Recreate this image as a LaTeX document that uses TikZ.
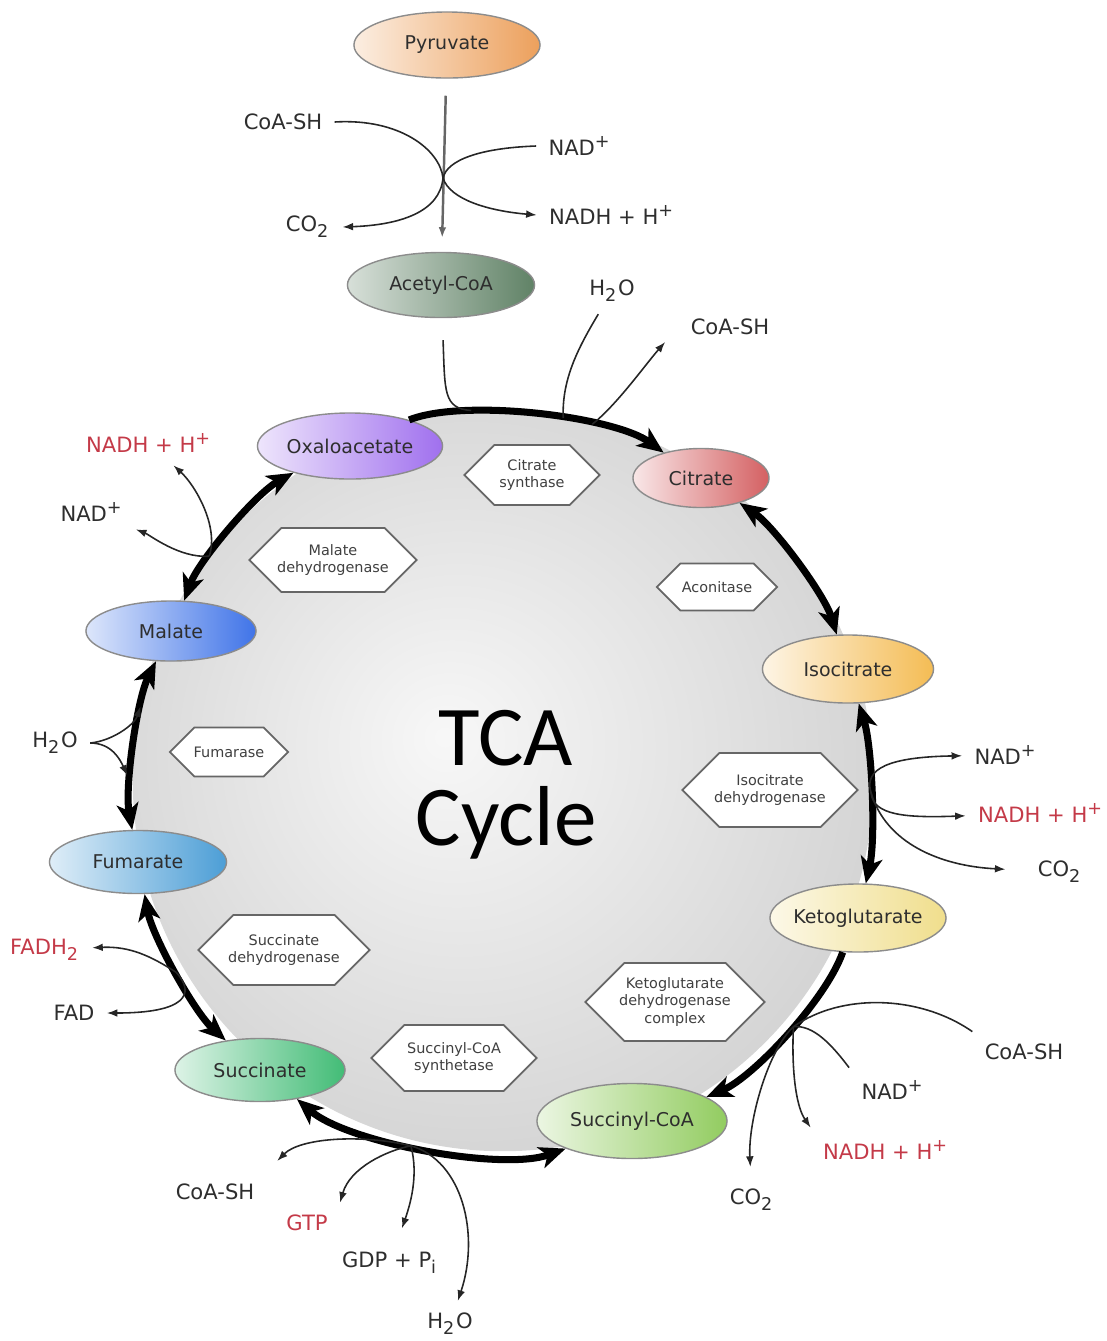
\documentclass[tikz,border=0pt]{standalone}
\usepackage{fontspec}
\setmainfont{DejaVu Sans}
\newfontfamily\tcafont{Carlito}
\usepackage{tikz}
\usetikzlibrary{shapes,arrows.meta}
\usetikzlibrary{positioning}
\definecolor{nadred}{RGB}{196,58,72}
\definecolor{pyrC}{RGB}{236,160,92}
\definecolor{acoaC}{RGB}{96,130,102}
\definecolor{oxaC}{RGB}{160,112,238}
\definecolor{citC}{RGB}{212,96,98}
\definecolor{isoC}{RGB}{244,188,84}
\definecolor{kgC}{RGB}{240,222,140}
\definecolor{scaC}{RGB}{146,204,96}
\definecolor{sucC}{RGB}{66,188,118}
\definecolor{fumC}{RGB}{76,158,214}
\definecolor{malC}{RGB}{64,116,232}
\pgfdeclareradialshading{tcashade}{\pgfpoint{-4bp}{3bp}}{color(0bp)=(white!97!black); color(50bp)=(white!72!black)}
\newcommand{\mCO}{CO\textsubscript{2}}
\newcommand{\mWater}{H\textsubscript{2}O}
\newcommand{\mNad}{NAD\textsuperscript{+}}
\newcommand{\mNadh}{NADH + H\textsuperscript{+}}
\newcommand{\mCoa}{CoA-SH}
\newcommand{\mFadh}{FADH\textsubscript{2}}
\tikzset{
  metab/.style={ellipse, draw=black!45, thin, inner xsep=-1pt,
    font=\fontsize{5.4}{6.5}\selectfont, text=black!82},
  enzyme/.style={signal, signal to=east and west, signal pointer angle=90,
    draw=black!60, fill=white, line width=0.5pt, align=center, inner xsep=-1.5pt,
    font=\fontsize{4.1}{5}\selectfont, text=black!75},
  lbl/.style={font=\fontsize{6}{7}\selectfont, text=black!82},
  prod/.style={lbl, text=nadred},
  cyc/.style={line width=2pt, looseness=0.65, >={Stealth[length=7.5pt,width=6.2pt,inset=2pt]}},
  aux/.style={line width=0.45pt, black!85, >={Latex[length=3pt,width=2.2pt]}},
}

\begin{document}
\begin{tikzpicture}[x=0.01cm, y=-0.01cm]
    \useasboundingbox (0,0) rectangle (1107,1341);
    \shade[shading=tcashade] (503,781) circle[radius=3.70cm];
    \node[font=\tcafont\fontsize{24.2}{22.8}\selectfont, align=center, inner sep=0pt] (tca) at (506,785) {TCA\\Cycle};
    % metabolites
    \node[metab, minimum width=1.86cm, minimum height=0.66cm, left color=pyrC!18, right color=pyrC] (pyr) at (447,45) {Pyruvate};
    \node[metab, minimum width=1.87cm, minimum height=0.65cm, left color=acoaC!25, right color=acoaC] (acoa) at (441,285) {Acetyl-CoA};
    \node[metab, minimum width=1.85cm, minimum height=0.66cm, left color=oxaC!18, right color=oxaC] (oxa) at (350,446) {Oxaloacetate};
    \node[metab, minimum width=1.36cm, minimum height=0.59cm, left color=citC!15, right color=citC] (cit) at (701,478) {Citrate};
    \node[metab, minimum width=1.71cm, minimum height=0.68cm, left color=isoC!15, right color=isoC] (iso) at (848,669) {Isocitrate};
    \node[metab, minimum width=1.76cm, minimum height=0.68cm, left color=kgC!20, right color=kgC] (kg) at (858,918) {Ketoglutarate};
    \node[metab, minimum width=1.90cm, minimum height=0.75cm, left color=scaC!18, right color=scaC] (sca) at (632,1121) {Succinyl-CoA};
    \node[metab, minimum width=1.70cm, minimum height=0.63cm, left color=sucC!18, right color=sucC] (suc) at (260,1070) {Succinate};
    \node[metab, minimum width=1.77cm, minimum height=0.63cm, left color=fumC!18, right color=fumC] (fum) at (138,862) {Fumarate};
    \node[metab, minimum width=1.70cm, minimum height=0.60cm, left color=malC!18, right color=malC] (mal) at (171,631) {Malate};
    % enzymes
    \node[enzyme, minimum width=1.35cm, minimum height=0.60cm] (cs) at (532,475) {Citrate\\synthase};
    \node[enzyme, minimum width=1.20cm, minimum height=0.47cm] (aco) at (717,587) {Aconitase};
    \node[enzyme, minimum width=1.70cm, minimum height=0.74cm] (idh) at (770,790) {Isocitrate\\dehydrogenase};
    \node[enzyme, minimum width=1.64cm, minimum height=0.78cm] (kgdh) at (675,1002) {Ketoglutarate\\dehydrogenase\\complex};
    \node[enzyme, minimum width=1.65cm, minimum height=0.66cm] (scs) at (454,1058) {Succinyl-CoA\\synthetase};
    \node[enzyme, minimum width=1.55cm, minimum height=0.70cm] (sdh) at (284,950) {Succinate\\dehydrogenase};
    \node[enzyme, minimum width=1.18cm, minimum height=0.49cm] (fh) at (229,752) {Fumarase};
    \node[enzyme, minimum width=1.67cm, minimum height=0.64cm] (mdh) at (333,560) {Malate\\dehydrogenase};
    % the cycle, with the points where side reactions meet it
    \draw[cyc,->] (oxa) to[bend left=29, looseness=0.6] coordinate[pos=0.27] (j1) coordinate[pos=0.58] (j2) coordinate[pos=0.68] (j3) (cit);
    \draw[cyc,<->] (cit) to[bend left=19.5] (iso);
    \draw[cyc,<->] (iso) to[bend left=15] coordinate[pos=0.5] (j9) (kg);
    \draw[cyc,->] (kg) to[bend left=24] coordinate[pos=0.45] (j8) (sca);
    \draw[cyc,<->] (sca) to[bend left=30.4, looseness=0.63] coordinate[pos=0.55] (j7) (suc);
    \draw[cyc,<->] (suc) to[bend left=18.8] coordinate[pos=0.5] (j6) (fum);
    \draw[cyc,<->] (fum) to[bend left=18.3] coordinate[pos=0.3] (j5d) coordinate[pos=0.74] (j5u) (mal);
    \draw[cyc,<->] (mal) to[bend left=20.6] coordinate[pos=0.32] (j4) (oxa);
    % side labels
    \node[lbl] (coa1) at (283,122) {\mCoa};
    \node[lbl] (nad1) at (580,146) {\mNad};
    \node[lbl] (co1) at (308,227) {\mCO};
    \node[lbl] (nadh1) at (612,215) {\mNadh};
    \node[lbl] (h2o1) at (612,291) {\mWater};
    \node[lbl] (coa2) at (730,327) {\mCoa};
    \node[prod] (nadh2) at (149,443) {\mNadh};
    \node[lbl] (nad2) at (92,512) {\mNad};
    \node[lbl] (h2o2) at (55,743) {\mWater};
    \node[prod] (fadh) at (45,950) {\mFadh};
    \node[lbl] (fad) at (74,1013) {FAD};
    \node[lbl] (coa3) at (215,1192) {\mCoa};
    \node[prod] (gtp) at (307,1223) {GTP};
    \node[lbl] (gdp) at (390,1263) {GDP + P\textsubscript{i}};
    \node[lbl] (h2o3) at (450,1324) {\mWater};
    \node[lbl] (coa4) at (1024,1052) {\mCoa};
    \node[lbl] (nad4) at (893,1090) {\mNad};
    \node[prod] (nadh4) at (886,1150) {\mNadh};
    \node[lbl] (co4) at (752,1200) {\mCO};
    \node[lbl] (nad3) at (1006,755) {\mNad};
    \node[prod] (nadh3) at (1041,813) {\mNadh};
    \node[lbl] (co3) at (1060,872) {\mCO};
    \coordinate (m1) at (443,178);
    % pyruvate dehydrogenase
    \draw[aux, line width=0.7pt, black!60, ->, shorten <=0.17cm, shorten >=0.14cm] (pyr) -- (acoa);
    \draw[aux] (coa1.east) .. controls (400,118) and (440,150) .. (m1);
    \draw[aux] (nad1.west) .. controls (480,148) and (447,160) .. (m1);
    \draw[aux,->] (m1) .. controls (440,212) and (400,225) .. (co1.east);
    \draw[aux,->] (m1) .. controls (450,200) and (490,211) .. (nadh1.west);
    % citrate synthase
    \draw[aux, shorten <=0.22cm] (acoa) .. controls (445,392) and ([shift={(-28,-2)}]j1) .. (j1);
    \draw[aux] (h2o1) .. controls (580,345) and ([shift={(-2,-40)}]j2) .. (j2);
    \draw[aux,->, shorten >=0.2cm] (j3) .. controls ([shift={(25,-20)}]j3) and (645,365) .. (coa2.west);
    % malate dehydrogenase
    \draw[aux,->] (j4) .. controls ([shift={(10,-30)}]j4) and (195,485) .. (nadh2);
    \draw[aux,->] (j4) .. controls ([shift={(-30,2)}]j4) and (150,535) .. (nad2);
    % fumarase
    \draw[aux,->, shorten >=0.07cm] (h2o2.east) .. controls (112,741) and ([shift={(-8,25)}]j5u) .. (j5u);
    \draw[aux,->, shorten >=0.07cm] (h2o2.east) .. controls (112,743) and ([shift={(-10,-22)}]j5d) .. (j5d);
    % succinate dehydrogenase
    \draw[aux,->] (j6) .. controls ([shift={(-25,-16)}]j6) and (130,946) .. (fadh);
    \draw[aux,->] (j6) .. controls ([shift={(20,22)}]j6) and (185,1013) .. (fad);
    % succinyl-CoA synthetase
    \draw[aux,->, shorten >=0.15cm] (j7) .. controls ([shift={(-50,-12)}]j7) and (300,1138) .. (coa3.north east);
    \draw[aux,->] (j7) .. controls ([shift={(-25,5)}]j7) and (350,1168) .. (gtp.north east);
    \draw[aux,->, shorten >=0.12cm] (j7) .. controls ([shift={(8,30)}]j7) and (410,1205) .. (gdp);
    \draw[aux,->] (j7) .. controls ([shift={(52,15)}]j7) and (480,1235) .. (h2o3);
    % ketoglutarate dehydrogenase
    \draw[aux] (coa4.north west) .. controls (920,995) and ([shift={(48,-34)}]j8) .. (j8);
    \draw[aux] (nad4.north west) .. controls (832,1045) and ([shift={(20,-2)}]j8) .. (j8);
    \draw[aux,->] (j8) .. controls ([shift={(-2,38)}]j8) and (795,1105) .. (nadh4.north west);
    \draw[aux,->, shorten >=0.1cm] (j8) .. controls ([shift={(-25,23)}]j8) and (748,1120) .. (co4);
    % isocitrate dehydrogenase
    \draw[aux,->] (j9) .. controls ([shift={(-8,-25)}]j9) and (890,757) .. (nad3);
    \draw[aux,->] (j9) .. controls ([shift={(2,22)}]j9) and (905,818) .. (nadh3);
    \draw[aux,->, shorten >=0.2cm] (j9) .. controls ([shift={(15,50)}]j9) and (940,866) .. (co3);
\end{tikzpicture}
\end{document}
